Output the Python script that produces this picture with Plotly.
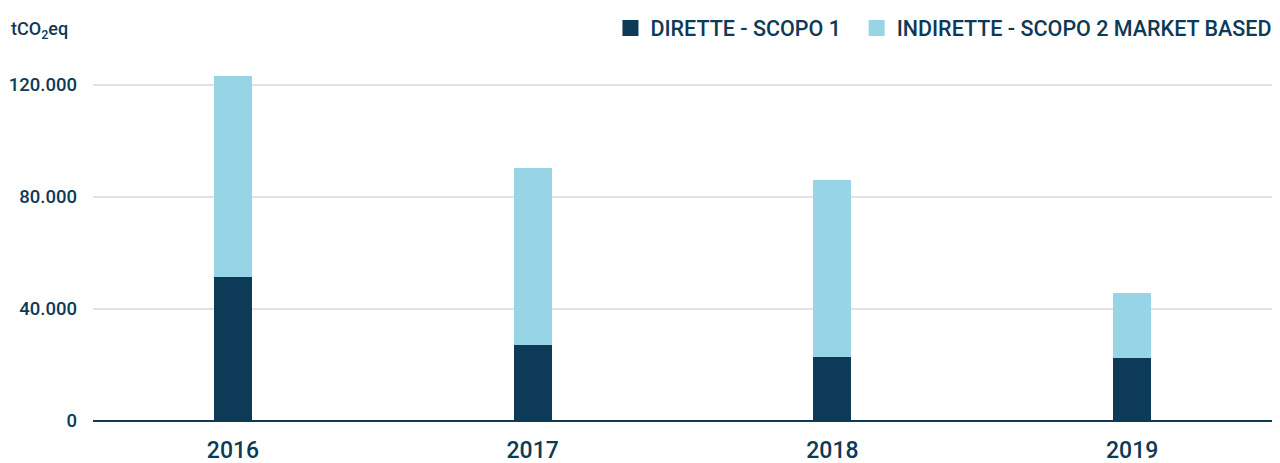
import plotly.graph_objects as go

years = ["2016", "2017", "2018", "2019"]
scopo1 = [51400, 27100, 22900, 22500]
scopo2 = [71800, 63300, 63200, 23200]
y_ticks = [0, 40000, 80000, 120000]
y_tick_text = ["0", "40.000", "80.000", "120.000"]
series_names = ["DIRETTE - SCOPO 1\u00a0\u00a0", "INDIRETTE - SCOPO 2 MARKET BASED"]

DARK = "#0d3a57"
LIGHT = "#97d4e5"
FONT = "Roboto, Arial, sans-serif"

xpos = list(range(len(years)))

fig = go.Figure()
fig.add_trace(go.Bar(x=xpos, y=scopo1, name=series_names[0], showlegend=False,
                     marker=dict(color=DARK, line=dict(width=0)), width=0.127))
fig.add_trace(go.Bar(x=xpos, y=scopo2, name=series_names[1], showlegend=False,
                     marker=dict(color=LIGHT, line=dict(width=0)), width=0.127))
# legend entries with larger square swatches
for nm, col in zip(series_names, [DARK, LIGHT]):
    fig.add_trace(go.Scatter(x=[None], y=[None], mode="markers", name=nm,
                             marker=dict(symbol="square", size=20, color=col)))

fig.update_layout(
    barmode="stack",
    width=1272, height=455,
    margin=dict(l=85, r=7, t=49, b=42, autoexpand=False),
    plot_bgcolor="white", paper_bgcolor="white",
    separators=",.",
    font=dict(family=FONT, color=DARK, size=20),
    showlegend=True,
    legend=dict(orientation="h", x=0.998, xref="container", xanchor="right",
                y=0.956, yref="container", yanchor="middle",
                font=dict(size=21.5, color=DARK, weight=500),
                traceorder="normal", itemsizing="trace",
                bgcolor="rgba(0,0,0,0)"),
    xaxis=dict(range=[-0.467, 3.47], tickmode="array", tickvals=xpos, ticktext=years,
               showgrid=False, zeroline=False, showline=False,
               tickfont=dict(size=23, color=DARK, weight=500), ticks="",
               ticklabelstandoff=13),
    yaxis=dict(range=[0, 130000], tickmode="array", tickvals=y_ticks, ticktext=y_tick_text,
               showgrid=True, gridcolor="#e2e1e8", gridwidth=2,
               zeroline=True, zerolinecolor=DARK, zerolinewidth=2,
               showline=False, tickfont=dict(size=18.5, color=DARK, weight=500), ticks="",
               ticklabelstandoff=15),
    annotations=[dict(text="tCO<sub>2</sub>eq", xref="paper", yref="paper",
                      x=-0.071, y=1.074, xanchor="left", yanchor="middle",
                      showarrow=False, font=dict(size=18, color=DARK, family=FONT, weight=500))],
)

fig.write_html("out.html")
